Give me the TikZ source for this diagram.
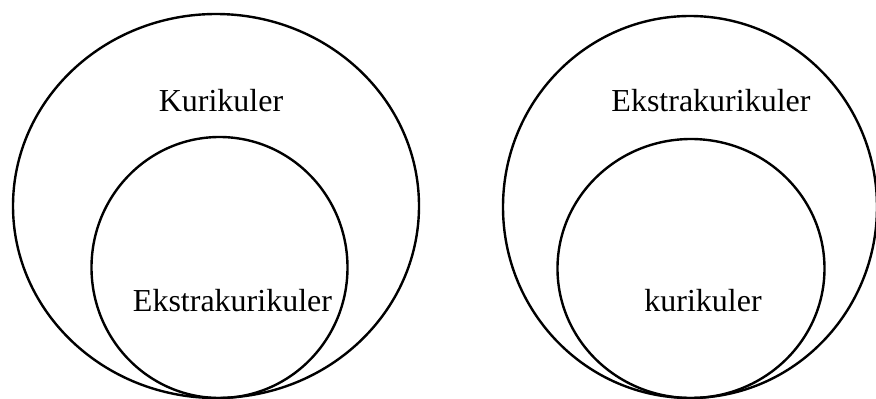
\documentclass[tikz,border=0pt]{standalone}
\usepackage{fontspec}
\setmainfont{Liberation Serif}
\usetikzlibrary{shapes.geometric}
\begin{document}
\begin{tikzpicture}[x=1pt,y=-1pt,
  ring/.style={draw=black, line width=2.4pt, ellipse, inner sep=0pt},
  lbl/.style={font=\fontsize{32}{38}\selectfont, inner sep=0pt, anchor=base}]
\useasboundingbox (0,0) rectangle (876,399);
% left
\node[ring, minimum width=406pt, minimum height=384pt] (lo) at (216,206) {};
\node[ring, minimum width=256pt, minimum height=261pt] (li) at (219.5,267.5) {};
\node[lbl] (t1) at (221,111) {Kurikuler};
\node[lbl] (t2) at (232.5,311) {Ekstrakurikuler};
% right
\node[ring, minimum width=374pt, minimum height=382pt] (ro) at (690,207) {};
\node[ring, minimum width=267pt, minimum height=259pt] (ri) at (691,268.5) {};
\node[lbl] (t3) at (711,111) {Ekstrakurikuler};
\node[lbl] (t4) at (703,311) {kurikuler};
\end{tikzpicture}
\end{document}
